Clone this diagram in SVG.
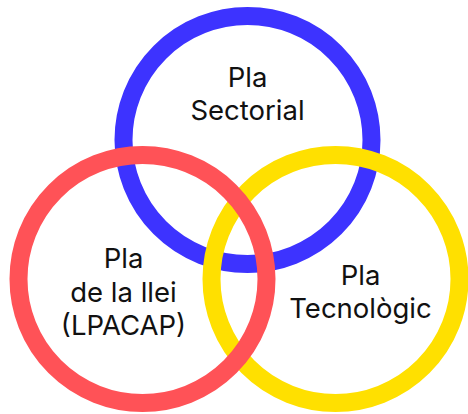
<svg xmlns="http://www.w3.org/2000/svg" width="468" height="414" viewBox="0 0 468 414">
<style>
.ring{fill:none;stroke-width:18}
.lbl{font-family:Inter,"Liberation Sans",sans-serif;font-size:27.5px;fill:#111;text-anchor:middle}
</style>
<rect width="468" height="414" fill="#fff"/>
<g id="sectorial">
<circle class="ring" cx="247.5" cy="140" r="124" stroke="#3d33ff"/>
<text class="lbl" x="247.5" y="87">Pla</text>
<text class="lbl" x="247.5" y="120">Sectorial</text>
</g>
<g id="tecnologic">
<circle class="ring" cx="335.5" cy="279" r="124" stroke="#ffe000"/>
<text class="lbl" x="360.5" y="285">Pla</text>
<text class="lbl" x="360.5" y="318">Tecnològic</text>
</g>
<g id="llei">
<circle class="ring" cx="142.5" cy="279" r="124" stroke="#ff5257"/>
<text class="lbl" x="123.5" y="268">Pla</text>
<text class="lbl" x="123.5" y="302">de la llei</text>
<text class="lbl" x="123.5" y="335">(LPACAP)</text>
</g>
<g id="connectors"/>
</svg>
